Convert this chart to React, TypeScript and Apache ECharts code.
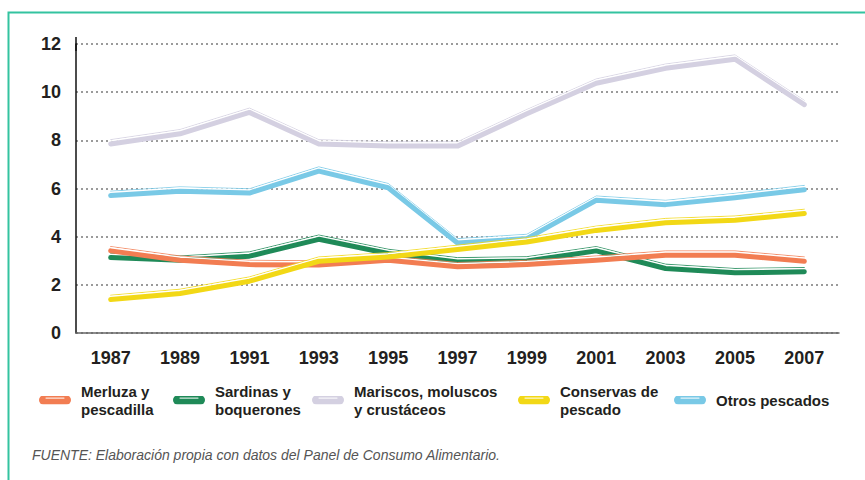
import React, { useEffect, useRef } from 'react';
import * as echarts from 'echarts';

const years = ['1987', '1989', '1991', '1993', '1995', '1997', '1999', '2001', '2003', '2005', '2007'];

const seriesNames = [
  'Merluza y pescadilla',
  'Sardinas y boquerones',
  'Mariscos, moluscos y crustáceos',
  'Conservas de pescado',
  'Otros pescados',
];
const legendLabels = [
  'Merluza y\npescadilla',
  'Sardinas y\nboquerones',
  'Mariscos, moluscos\ny crustáceos',
  'Conservas de\npescado',
  'Otros pescados',
];

const merluza = [3.41, 3.02, 2.84, 2.82, 3.02, 2.75, 2.84, 3.02, 3.23, 3.23, 2.98];
const sardinas = [3.13, 3.02, 3.19, 3.89, 3.3, 2.95, 2.99, 3.41, 2.68, 2.5, 2.54];
const mariscos = [7.85, 8.27, 9.16, 7.85, 7.76, 7.76, 9.1, 10.37, 10.99, 11.37, 9.48];
const conservas = [1.39, 1.64, 2.15, 2.98, 3.16, 3.47, 3.78, 4.26, 4.58, 4.68, 4.96];
const otros = [5.71, 5.89, 5.81, 6.72, 6.03, 3.74, 3.92, 5.51, 5.33, 5.62, 5.95];

const yMin = 0;
const yMax = 12;
const yInterval = 2;

const sourceNote = 'FUENTE: Elaboración propia con datos del Panel de Consumo Alimentario.';

const values = [merluza, sardinas, mariscos, conservas, otros];

export default function App() {
  const ref = useRef<HTMLDivElement>(null);

  useEffect(() => {
    document.body.style.margin = '0';
    if (!ref.current) return;
    const chart = echarts.init(ref.current, null, { renderer: 'svg' });

    const font = "'Liberation Sans', Arial, Helvetica, sans-serif";
    const colors = ['#F27D52', '#1F8A58', '#D4D0E1', '#F2D816', '#79C9E6'];
    const zRank = [3, 2, 0, 4, 1];
    const legendLeft = [39, 173, 312, 518, 674];

    const L = 76, R = 26, T = 44, B = 147;
    const grids = [
      { left: L, right: R, top: T, bottom: B },
      { left: L, right: R, top: T - 4.3, bottom: B + 4.3 },
      { left: L, right: R, top: T - 3, bottom: B + 3 },
    ];

    const icon = (c: string) =>
      'image://data:image/svg+xml;charset=utf-8,' +
      encodeURIComponent(
        `<svg xmlns="http://www.w3.org/2000/svg" width="32" height="9" viewBox="0 0 32 9"><rect x="0" y="0" width="32" height="9" rx="4.5" ry="4.5" fill="${c}"/><line x1="7" y1="2.6" x2="25" y2="2.6" stroke="#ffffff" stroke-opacity="0.8" stroke-width="1.2" stroke-linecap="round"/></svg>`
      );

    const xAxes = grids.map((_, gi) => ({
      type: 'category',
      gridIndex: gi,
      data: years,
      boundaryGap: true,
      show: gi === 0,
      axisLine: { show: true, lineStyle: { color: '#666', width: 1.5 } },
      axisTick: { show: false },
      axisLabel: {
        show: true,
        margin: 16,
        fontSize: 18,
        fontWeight: 'bold',
        fontFamily: font,
        color: '#231F20',
      },
      splitLine: { show: false },
    }));

    const yAxes = grids.map((_, gi) => ({
      type: 'value',
      gridIndex: gi,
      min: yMin,
      max: yMax,
      interval: yInterval,
      show: gi === 0,
      axisLine: {
        show: true,
        symbol: ['none', 'rect'],
        symbolSize: [1.5, 14],
        lineStyle: { color: '#111', width: 1.5 },
      },
      axisTick: { show: false },
      axisLabel: {
        margin: 15,
        fontSize: 18,
        fontWeight: 'bold',
        fontFamily: font,
        color: '#231F20',
      },
      splitLine: {
        show: true,
        lineStyle: { color: '#9a9a9a', width: 2, type: [2, 3] },
      },
    }));

    const series: any[] = [];
    values.forEach((vals, i) => {
      const base = 2 + zRank[i] * 3;
      series.push({
        type: 'line',
        name: seriesNames[i] + ' (borde)',
        xAxisIndex: 1,
        yAxisIndex: 1,
        data: vals,
        showSymbol: false,
        silent: true,
        z: base,
        lineStyle: { color: colors[i], width: 1, opacity: 0.85, cap: 'round', join: 'round' },
      });
      series.push({
        type: 'line',
        name: seriesNames[i] + ' (brillo)',
        xAxisIndex: 2,
        yAxisIndex: 2,
        data: vals,
        showSymbol: false,
        silent: true,
        z: base + 1,
        lineStyle: { color: '#ffffff', width: 1.6, cap: 'round', join: 'round' },
      });
      series.push({
        type: 'line',
        name: seriesNames[i],
        xAxisIndex: 0,
        yAxisIndex: 0,
        data: vals,
        showSymbol: false,
        z: base + 2,
        itemStyle: { color: colors[i] },
        lineStyle: { color: colors[i], width: 5, cap: 'round', join: 'round' },
      });
    });

    const legends = seriesNames.map((n, i) => ({
      data: [{ name: n, icon: icon(colors[i]) }],
      left: legendLeft[i],
      top: i === 4 ? 391 : 375,
      padding: 0,
      itemWidth: 32,
      itemHeight: 9,
      selectedMode: false,
      formatter: () => legendLabels[i],
      textStyle: {
        fontSize: 15,
        fontWeight: 'bold',
        fontFamily: font,
        color: '#231F20',
        lineHeight: 18,
        padding: i === 4 ? [0, 0, 0, 5] : [14, 0, 0, 5],
      },
    }));

    chart.setOption({
      animation: false,
      backgroundColor: '#ffffff',
      grid: grids,
      xAxis: xAxes,
      yAxis: yAxes,
      legend: legends,
      series,
      graphic: [
        {
          type: 'rect',
          silent: true,
          shape: { x: 8.5, y: 12.5, width: 1000, height: 1000 },
          style: { fill: 'none', stroke: '#33C3A0', lineWidth: 2 },
        },
        {
          type: 'text',
          silent: true,
          x: 32,
          y: 455,
          style: {
            text: sourceNote,
            fontSize: 14,
            fontStyle: 'italic',
            fontFamily: font,
            fill: '#555555',
            verticalAlign: 'middle',
          },
        },
      ],
    });

    return () => chart.dispose();
  }, []);

  return <div ref={ref} style={{ width: 865, height: 480 }} />;
}
